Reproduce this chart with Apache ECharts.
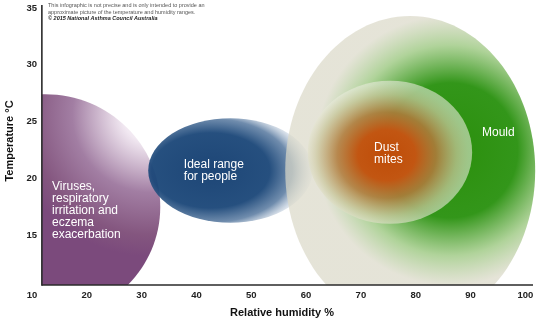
<!DOCTYPE html>
<html><head><meta charset="utf-8">
<script src="https://cdn.jsdelivr.net/npm/echarts@6/dist/echarts.min.js"></script>
<style>html,body{margin:0;padding:0;background:#fff}#c{width:542px;height:329px}</style>
</head><body><div id="c"></div>
<script>
// ---- data ----
const xTicks = [10, 20, 30, 40, 50, 60, 70, 80, 90, 100];
const yTicks = [10, 15, 20, 25, 30, 35];
const zoneNames = ['Viruses', 'Ideal range', 'Mould', 'Dust mites'];
const zoneHumidity = [12.4, 46.2, 79.0, 75.3];   // centre, %RH
const zoneTemp = [17.5, 20.7, 20.7, 22.3];         // centre, °C
const zoneHumHalfWidth = [21.0, 15.0, 22.8, 15.0]; // half width, %RH
const zoneTempHalfHeight = [9.9, 4.6, 13.6, 6.3];  // half height, °C
const labelTexts = ['Viruses,\nrespiratory\nirritation and\neczema\nexacerbation', 'Ideal range\nfor people', 'Dust\nmites', 'Mould'];
const labelHumidity = [13.65, 37.7, 72.4, 92.1];
const labelTemp = [17.2, 20.65, 22.15, 24.0];
const axisOrigin = [11.8, 10.62];
const axisEnd = [101.4, 35.26];
const noteLines = ['This infographic is not precise and is only intended to provide an', 'approximate picture of the temperature and humidity ranges.', '© 2015 National Asthma Council Australia'];

// ---- styles ----
const FONT = '"Liberation Sans", Arial, Helvetica, sans-serif';
// stretched: gradient follows the ellipse shape
const stretched = [false, true, false, true];
const fills = [
  {type:'radial', x:0.957, y:0.09, r:0.63, colorStops:[
    {offset:0, color:'rgba(255,255,255,0.9)'},{offset:0.2, color:'rgba(240,230,240,0.92)'},
    {offset:0.55, color:'#a27ea3'},{offset:0.85, color:'#84567f'},{offset:1, color:'#7b4a7c'}]},
  {type:'radial', x:0.38, y:0.5, r:0.62, colorStops:[
    {offset:0, color:'rgba(22,64,114,0.97)'},{offset:0.58, color:'rgba(26,70,120,0.95)'},
    {offset:0.8, color:'rgba(80,115,155,0.82)'},{offset:1, color:'rgba(235,240,246,0.45)'}]},
  {type:'radial', x:0.66, y:0.435, r:0.54, colorStops:[
    {offset:0, color:'#2b8f0c'},{offset:0.5, color:'#33961a'},
    {offset:0.78, color:'rgba(165,205,140,0.88)'},{offset:1, color:'rgba(218,216,199,0.7)'}]},
  {type:'radial', x:0.48, y:0.52, r:0.5, colorStops:[
    {offset:0, color:'#bf4c08'},{offset:0.35, color:'#c25612'},
    {offset:0.6, color:'rgba(182,122,62,0.85)'},{offset:0.85, color:'rgba(205,200,160,0.72)'},
    {offset:1, color:'rgba(232,234,218,0.6)'}]}
];

const chart = echarts.init(document.getElementById('c'), null, {renderer:'canvas'});
chart.setOption({
  animation: false,
  backgroundColor: '#fff',
  grid: {left: 32, right: 9, top: 8, bottom: 37},
  xAxis: {
    type: 'value', min: xTicks[0], max: axisEnd[0], interval: 10,
    axisLine: {show: false}, axisTick: {show: false}, splitLine: {show: false},
    axisLabel: {margin: -2, fontSize: 9.5, fontWeight: 'bold', color: '#222', fontFamily: FONT,
      formatter: v => xTicks.indexOf(v) >= 0 ? String(v) : ''}
  },
  yAxis: {
    type: 'value', min: yTicks[0], max: yTicks[yTicks.length - 1], interval: 5,
    axisLine: {show: false}, axisTick: {show: false}, splitLine: {show: false},
    axisLabel: {margin: -5, fontSize: 9.5, fontWeight: 'bold', color: '#222', fontFamily: FONT,
      showMinLabel: false}
  },
  graphic: [
    {type:'text', x: 9.5, y: 141, rotation: Math.PI/2,
      style:{text:'Temperature °C', font:'bold 11px ' + FONT, fill:'#111', align:'center', verticalAlign:'middle'}},
    {type:'text', x: 282, y: 313,
      style:{text:'Relative humidity %', font:'bold 11px ' + FONT, fill:'#111', align:'center', verticalAlign:'middle'}},
    {type:'text', x: 48, y: 2.4,
      style:{text: '{a|' + noteLines[0] + '}\n{a|' + noteLines[1] + '}\n{b|' + noteLines[2] + '}',
        rich:{a:{fontSize:5.5, lineHeight:6.6, fill:'#555', fontFamily:FONT},
              b:{fontSize:5.5, lineHeight:6.6, fill:'#222', fontWeight:'bold', fontStyle:'italic', fontFamily:FONT}}}}
  ],
  series: [
    {
      type: 'custom', name: 'zones', coordinateSystem: 'cartesian2d', silent: true, clip: false,
      data: zoneNames.map((n, i) => ({name: n, value: [zoneHumidity[i], zoneTemp[i], zoneHumHalfWidth[i], zoneTempHalfHeight[i]]})),
      renderItem: function (params, api) {
        const i = params.dataIndex;
        const c = api.coord([api.value(0), api.value(1)]);
        const s = api.size([api.value(2), api.value(3)]);
        const rx = Math.abs(s[0]), ry = Math.abs(s[1]);
        const o = api.coord(axisOrigin);
        if (stretched[i]) {
          const k = rx / ry;
          return {
            type: 'circle', x: c[0], y: c[1], scaleX: k, scaleY: 1,
            shape: {cx: 0, cy: 0, r: ry},
            style: {fill: fills[i]},
            clipPath: {type: 'rect', shape: {x: (o[0] - c[0]) / k, y: -1000, width: 2000, height: 1000 + o[1] - c[1]}}
          };
        }
        return {
          type: 'ellipse',
          shape: {cx: c[0], cy: c[1], rx: rx, ry: ry},
          style: {fill: fills[i]},
          clipPath: {type: 'rect', shape: {x: o[0], y: 0, width: 1000, height: o[1]}}
        };
      }
    },
    {
      type: 'custom', name: 'axes', coordinateSystem: 'cartesian2d', silent: true, clip: false,
      data: [[axisOrigin[0], axisOrigin[1]]],
      renderItem: function (params, api) {
        const o = api.coord(axisOrigin);
        const xe = api.coord([axisEnd[0], axisOrigin[1]]);
        const ye = api.coord([axisOrigin[0], axisEnd[1]]);
        return {type: 'group', children: [
          {type: 'line', shape: {x1: o[0], y1: o[1], x2: xe[0], y2: xe[1]}, style: {stroke: '#2a2a2a', lineWidth: 1.6}},
          {type: 'line', shape: {x1: o[0], y1: o[1] + 0.8, x2: ye[0], y2: ye[1]}, style: {stroke: '#2a2a2a', lineWidth: 1.6}}
        ]};
      }
    },
    {
      type: 'custom', name: 'labels', coordinateSystem: 'cartesian2d', silent: true, clip: false,
      data: labelTexts.map((t, i) => [labelHumidity[i], labelTemp[i]]),
      renderItem: function (params, api) {
        const p = api.coord([api.value(0), api.value(1)]);
        return {type: 'text', x: p[0], y: p[1],
          style: {text: labelTexts[params.dataIndex], fill: '#fff', fontSize: 12, fontFamily: FONT,
            lineHeight: 12, align: 'left', verticalAlign: 'middle'}};
      }
    }
  ]
});
</script></body></html>
